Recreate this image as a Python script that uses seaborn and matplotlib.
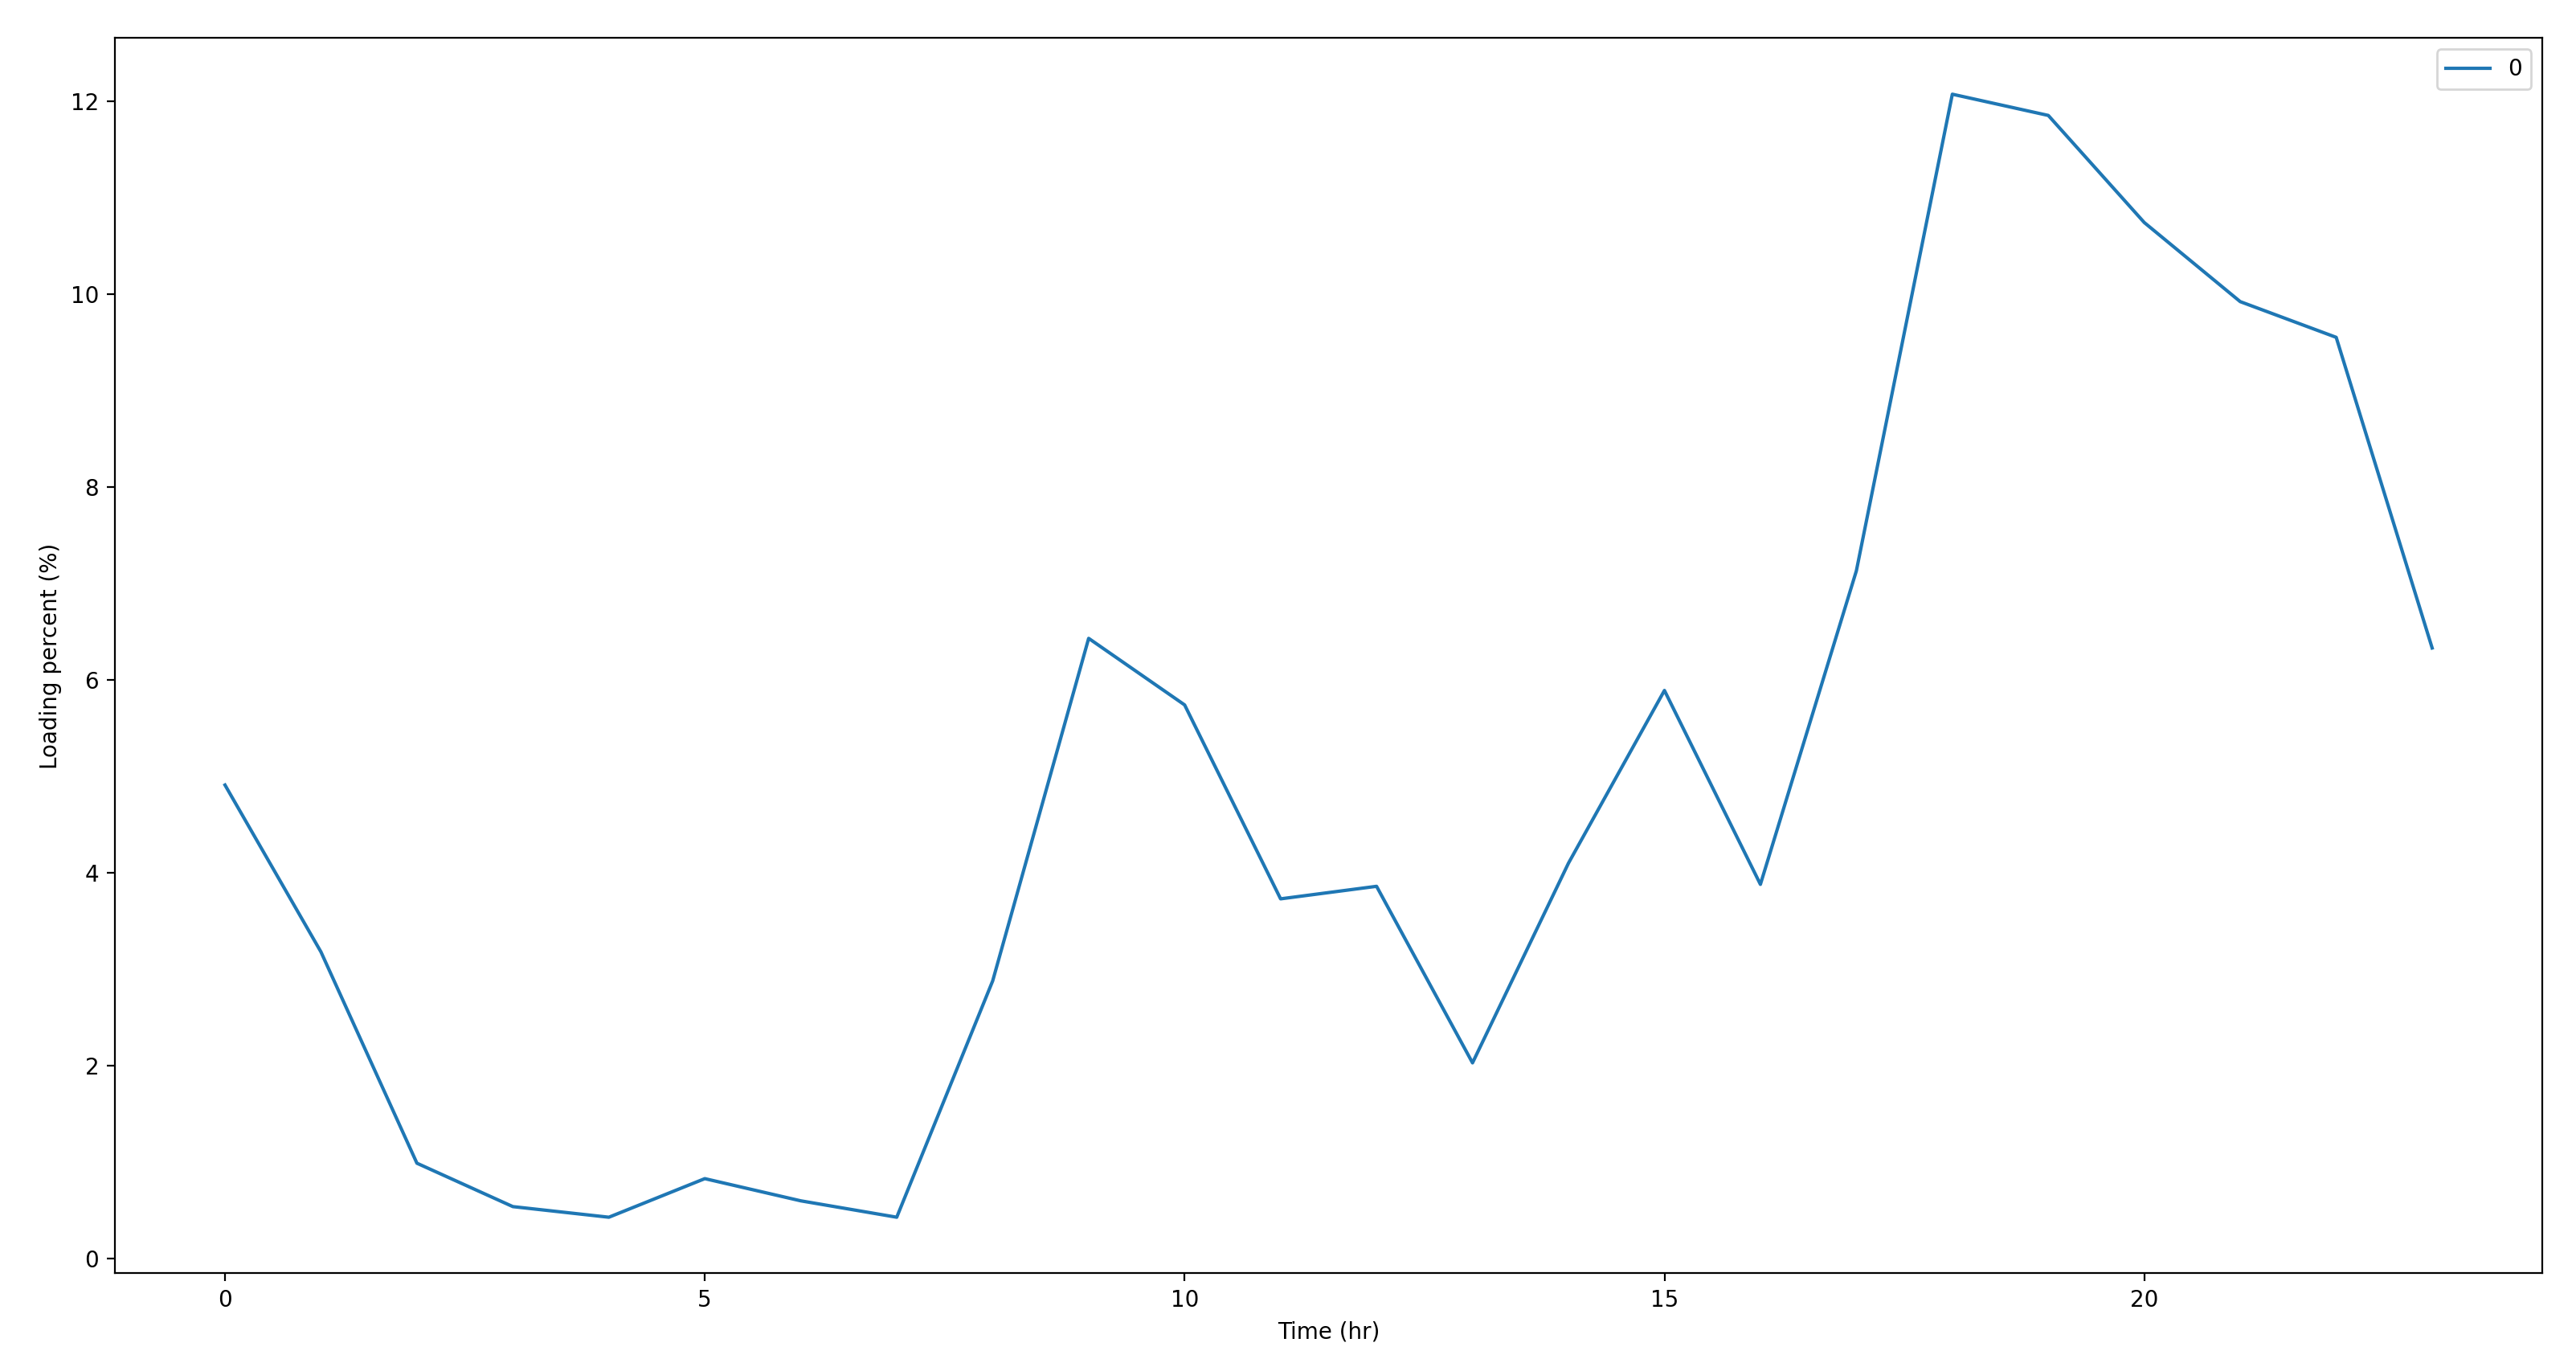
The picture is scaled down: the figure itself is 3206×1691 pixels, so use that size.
import pandas as pd
import matplotlib
matplotlib.use('Agg')
import matplotlib.pyplot as plt
import seaborn as sns


# hourly loading percent
hours = list(range(24))
loading = [4.91, 3.18, 0.99, 0.54, 0.43, 0.83, 0.60, 0.43,
           2.88, 6.43, 5.74, 3.73, 3.86, 2.03, 4.10, 5.89,
           3.88, 7.13, 12.07, 11.85, 10.74, 9.92, 9.55, 6.33]
series_name = '0'

df = pd.DataFrame({'hour': hours, 'loading': loading})

fig = plt.figure(figsize=(16.03, 8.455), dpi=200)
ax = fig.add_axes([0.0445, 0.063, 0.9425, 0.909])

sns.lineplot(x='hour', y='loading', data=df, label=series_name, ax=ax)

ax.set_xlabel('Time (hr)')
ax.set_ylabel('Loading percent (%)')
ax.legend(loc='upper right')

plt.savefig('out.png', dpi=200)
